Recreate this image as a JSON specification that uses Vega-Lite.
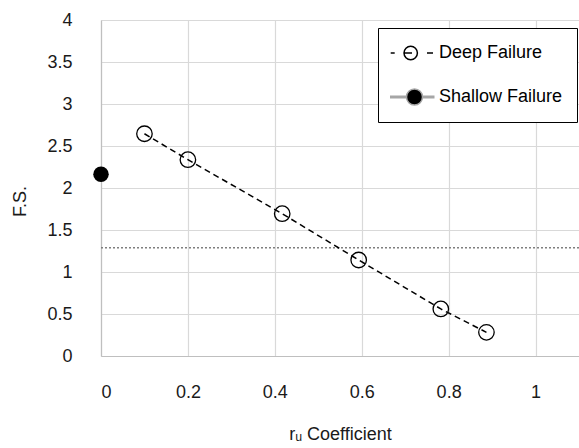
{
  "$schema": "https://vega.github.io/schema/vega-lite/v6.json",
  "width": 478,
  "height": 336,
  "autosize": "none",
  "padding": {"left": 101, "top": 20, "right": 0, "bottom": 92},
  "background": "white",
  "config": {
    "font": "Liberation Sans",
    "view": {"stroke": null},
    "axis": {
      "gridColor": "#d9d9d9",
      "gridWidth": 1.2,
      "domainColor": "#bfbfbf",
      "domainWidth": 1.2,
      "ticks": false,
      "labelFontSize": 18,
      "labelColor": "#1a1a1a",
      "titleFontSize": 18,
      "titleFontWeight": "normal",
      "titleColor": "#1a1a1a"
    }
  },
  "data": {
    "values": [
      {"series": "Deep Failure", "ru": 0.1, "fs": 2.646},
      {"series": "Deep Failure", "ru": 0.2, "fs": 2.337},
      {"series": "Deep Failure", "ru": 0.417, "fs": 1.694},
      {"series": "Deep Failure", "ru": 0.593, "fs": 1.143},
      {"series": "Deep Failure", "ru": 0.782, "fs": 0.56},
      {"series": "Deep Failure", "ru": 0.887, "fs": 0.282},
      {"series": "Shallow Failure", "ru": 0, "fs": 2.163}
    ]
  },
  "layer": [
    {
      "data": {"values": [{"fs_limit": 1.29}]},
      "mark": {"type": "rule", "color": "#7f7f7f", "strokeDash": [2, 2], "strokeWidth": 1.5},
      "encoding": {
        "y": {"field": "fs_limit", "type": "quantitative", "scale": {"domain": [0, 4]}}
      }
    },
    {
      "transform": [{"filter": "datum.series === 'Deep Failure'"}],
      "mark": {"type": "line", "color": "black", "strokeDash": [6, 4], "strokeWidth": 1.5},
      "encoding": {
        "x": {"field": "ru", "type": "quantitative"},
        "y": {"field": "fs", "type": "quantitative"}
      }
    },
    {
      "transform": [{"filter": "datum.series === 'Deep Failure'"}],
      "mark": {"type": "point", "shape": "circle", "size": 240, "strokeWidth": 1.3, "opacity": 1, "filled": false, "color": "black"},
      "encoding": {
        "x": {"field": "ru", "type": "quantitative"},
        "y": {"field": "fs", "type": "quantitative"}
      }
    },
    {
      "transform": [{"filter": "datum.series === 'Shallow Failure'"}],
      "mark": {"type": "point", "shape": "circle", "size": 240, "strokeWidth": 1.3, "opacity": 1, "filled": true, "color": "black"},
      "encoding": {
        "x": {"field": "ru", "type": "quantitative"},
        "y": {"field": "fs", "type": "quantitative"}
      }
    },
    {
      "mark": {"type": "point", "size": 240, "opacity": 0, "filled": true},
      "encoding": {
        "x": {
          "field": "ru", "type": "quantitative",
          "scale": {"domain": [0, 1.1], "nice": false},
          "axis": {"values": [0, 0.2, 0.4, 0.6, 0.8, 1], "format": "~g", "labelPadding": 27, "title": "rᵤ Coefficient", "titlePadding": 24}
        },
        "y": {
          "field": "fs", "type": "quantitative",
          "scale": {"domain": [0, 4], "nice": false},
          "axis": {"values": [0, 0.5, 1, 1.5, 2, 2.5, 3, 3.5, 4], "format": "~g", "labelPadding": 29, "title": "F.S.", "titlePadding": 17, "titleY": 181}
        },
        "shape": {
          "field": "series", "type": "nominal",
          "scale": {
            "domain": ["Deep Failure", "Shallow Failure"],
            "range": [
              "M-2.13,0H-1.73M-0.8,0H0M0.54,0A0.67,0.67 0 1,1 -0.8,0A0.67,0.67 0 1,1 0.54,0M1.5,0H2.1",
              "M-2.2,-0.07H-0.55M-2.2,0.07H-0.55M1.05,-0.07H2.25M1.05,0.07H2.25M1.05,0A0.8,0.8 0 1,1 -0.55,0A0.8,0.8 0 1,1 1.05,0"
            ]
          },
          "legend": {
            "title": null,
            "orient": "none",
            "legendX": 277,
            "legendY": 8,
            "strokeColor": "black",
            "fillColor": "white",
            "padding": 14,
            "symbolSize": 400,
            "symbolOffset": 9,
            "labelOffset": 16,
            "labelFontSize": 18,
            "labelColor": "black",
            "rowPadding": 23,
            "symbolStrokeWidth": 1.5,
            "symbolOpacity": 1
          }
        },
        "fill": {
          "field": "series", "type": "nominal",
          "scale": {"domain": ["Deep Failure", "Shallow Failure"], "range": ["transparent", "black"]}
        },
        "stroke": {
          "field": "series", "type": "nominal",
          "scale": {"domain": ["Deep Failure", "Shallow Failure"], "range": ["black", "#a6a6a6"]}
        }
      }
    }
  ]
}
